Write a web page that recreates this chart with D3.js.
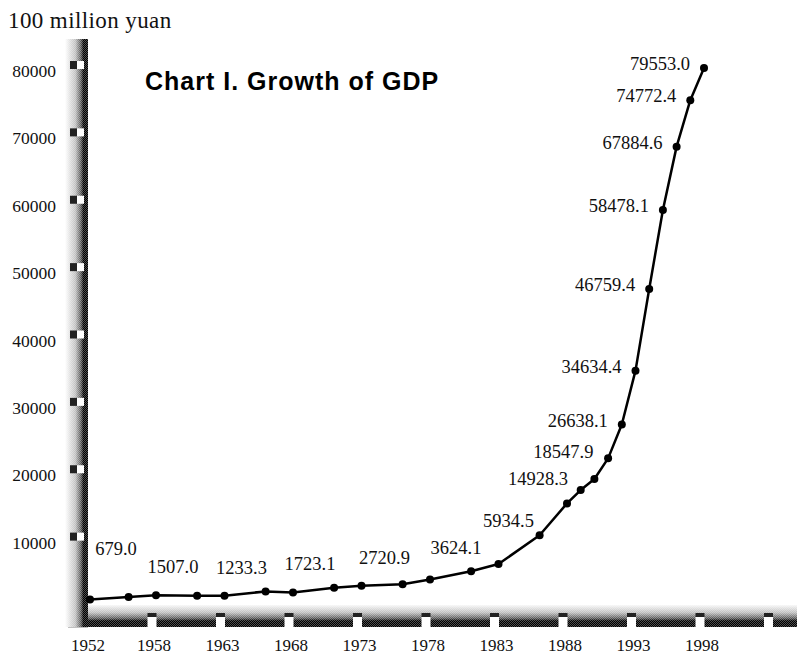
<!DOCTYPE html>
<html>
<head>
<meta charset="utf-8">
<script src="https://cdn.jsdelivr.net/npm/d3@7"></script>
<style>
  body { margin: 0; background: #fff; }
  svg { display: block; }
</style>
</head>
<body>
<svg id="chart"></svg>
<script>
// GDP, 100 million yuan
const years = [1952, 1956, 1958, 1961, 1963, 1966, 1968, 1971, 1973, 1976, 1978, 1981, 1983,
    1986, 1988, 1989, 1990, 1991, 1992, 1993, 1994, 1995, 1996, 1997, 1998];
const gdp = [679.0, 1028.0, 1307.0, 1220.1, 1233.3, 1868.0, 1723.1, 2426.4, 2720.9, 2943.7, 3624.1, 4862.4, 5934.5,
    10202.2, 14928.3, 16909.2, 18547.9, 21617.8, 26638.1, 34634.4, 46759.4, 58478.1, 67884.6, 74772.4, 79553.0];

const yTicks = [10000, 20000, 30000, 40000, 50000, 60000, 70000, 80000];
const xTickYears = [1952, 1958, 1963, 1968, 1973, 1978, 1983, 1988, 1993, 1998];
const notchYears = [1958, 1963, 1968, 1973, 1978, 1983, 1988, 1993, 1998, 2003];

// printed value labels and the point each one belongs to
const labelYears = [1952, 1958, 1963, 1968, 1973, 1978, 1983, 1988, 1990, 1992, 1993, 1994, 1995, 1996, 1997, 1998];
const labelTexts = ["679.0", "1507.0", "1233.3", "1723.1", "2720.9", "3624.1", "5934.5", "14928.3", "18547.9",
    "26638.1", "34634.4", "46759.4", "58478.1", "67884.6", "74772.4", "79553.0"];

const width = 797, height = 656;
const data = years.map((yr, i) => ({ year: yr, value: gdp[i] }));
const serif = "'Liberation Serif', 'Times New Roman', serif";

const svg = d3.select("#chart")
    .attr("width", width)
    .attr("height", height)
    .attr("viewBox", [0, 0, width, height]);

const x = d3.scaleLinear().domain([1958, 1998]).range([156, 704]);
const y = d3.scaleLinear().domain([0, 80000]).range([604, 65]);

const axisRight = 88;
// first point sits just off the vertical bar
const px = yr => Math.max(x(yr), axisRight + 2);

// gradients for the shaded axis bars
const defs = svg.append("defs");
const gv = defs.append("linearGradient").attr("id", "gv").attr("x1", 0).attr("x2", 1).attr("y1", 0).attr("y2", 0);
[[0, "#ffffff"], [0.45, "#c0c0c0"], [0.7, "#555"], [0.8, "#000"], [1, "#000"]]
    .forEach(([o, c]) => gv.append("stop").attr("offset", o).attr("stop-color", c));
const gh = defs.append("linearGradient").attr("id", "gh").attr("x1", 0).attr("x2", 0).attr("y1", 0).attr("y2", 1);
[[0, "#f8f8f8"], [0.35, "#bcbcbc"], [0.6, "#5a5a5a"], [0.72, "#000"], [1, "#000"]]
    .forEach(([o, c]) => gh.append("stop").attr("offset", o).attr("stop-color", c));
const dots = defs.append("pattern").attr("id", "dither")
    .attr("width", 2).attr("height", 2).attr("patternUnits", "userSpaceOnUse");
dots.append("rect").attr("width", 1).attr("height", 1).attr("fill", "#fff").attr("fill-opacity", 0.3);
dots.append("rect").attr("x", 1).attr("y", 1).attr("width", 1).attr("height", 1).attr("fill", "#fff").attr("fill-opacity", 0.3);

// horizontal bar
svg.append("rect").attr("x", axisRight).attr("y", 605).attr("width", width - axisRight).attr("height", 22).attr("fill", "url(#gh)");
svg.append("rect").attr("x", axisRight).attr("y", 605).attr("width", width - axisRight).attr("height", 22).attr("fill", "url(#dither)");
svg.append("line").attr("x1", 68).attr("x2", axisRight).attr("y1", 626.5).attr("y2", 626.5)
    .attr("stroke", "#000").attr("stroke-width", 1.5);

// notches in the horizontal bar
const notch = svg.append("g").selectAll("g").data(notchYears).join("g")
    .attr("transform", d => `translate(${x(d) - 4},0)`);
notch.append("rect").attr("x", -4.5).attr("y", 613).attr("width", 9).attr("height", 4).attr("fill", "#222");
notch.append("rect").attr("x", -4.5).attr("y", 617).attr("width", 9).attr("height", 10).attr("fill", "#fff");

// vertical bar
svg.append("rect").attr("x", 65).attr("y", 39).attr("width", axisRight - 65).attr("height", 588).attr("fill", "url(#gv)");
svg.append("rect").attr("x", 65).attr("y", 39).attr("width", axisRight - 65).attr("height", 588).attr("fill", "url(#dither)");

// y ticks: half dark / half white squares
const yt = svg.append("g").selectAll("g").data(yTicks).join("g")
    .attr("transform", d => `translate(0,${y(d)})`);
yt.append("rect").attr("x", 70).attr("y", -4).attr("width", 7).attr("height", 8).attr("fill", "#222");
yt.append("rect").attr("x", 77).attr("y", -4).attr("width", 7).attr("height", 8).attr("fill", "#fff");
yt.append("text")
    .attr("x", 56).attr("y", 12)
    .attr("text-anchor", "end")
    .attr("font-family", serif)
    .attr("font-size", 17.5)
    .attr("fill", "#111")
    .text(d => d);

// x tick labels
svg.append("g").selectAll("text").data(xTickYears).join("text")
    .attr("x", d => px(d) - 2)
    .attr("y", 651)
    .attr("text-anchor", "middle")
    .attr("font-family", serif)
    .attr("font-size", 17)
    .attr("fill", "#111")
    .text(d => d);

// unit label
svg.append("text")
    .attr("x", 8).attr("y", 28)
    .attr("font-family", serif)
    .attr("font-size", 23)
    .attr("letter-spacing", 0.4)
    .attr("fill", "#111")
    .text("100 million yuan");

// title
svg.append("text")
    .attr("x", 145).attr("y", 90)
    .attr("font-family", "'Liberation Sans', Arial, sans-serif")
    .attr("font-weight", "bold")
    .attr("font-size", 25)
    .attr("letter-spacing", 1)
    .attr("fill", "#000")
    .text("Chart I. Growth of GDP");

// line
const line = d3.line()
    .x(d => px(d.year))
    .y(d => y(d.value));

svg.append("path")
    .datum(data)
    .attr("fill", "none")
    .attr("stroke", "#000")
    .attr("stroke-width", 2.5)
    .attr("stroke-linejoin", "round")
    .attr("d", line);

svg.append("g").selectAll("circle").data(data).join("circle")
    .attr("cx", d => px(d.year))
    .attr("cy", d => y(d.value))
    .attr("r", 4)
    .attr("fill", "#000");

// value labels: early ones sit above the point, later ones to its left
const nudge = { 1952: [26, -44], 1983: [10, -37], 1988: [1, -18], 1990: [-1, -21], 1978: [26, -26], 1973: [23, -22] };
const labels = labelYears.map((yr, i) => ({ year: yr, text: labelTexts[i], value: gdp[years.indexOf(yr)] }));

svg.append("g").selectAll("text").data(labels).join("text")
    .attr("x", d => px(d.year) + (nudge[d.year] ? nudge[d.year][0] : (d.year < 1985 ? 17 : -14)))
    .attr("y", d => y(d.value) + (nudge[d.year] ? nudge[d.year][1] : (d.year < 1985 ? -22 : 2)))
    .attr("text-anchor", d => d.year < 1985 ? "middle" : "end")
    .attr("font-family", serif)
    .attr("font-size", 18.5)
    .attr("fill", "#111")
    .text(d => d.text);
</script>
</body>
</html>
